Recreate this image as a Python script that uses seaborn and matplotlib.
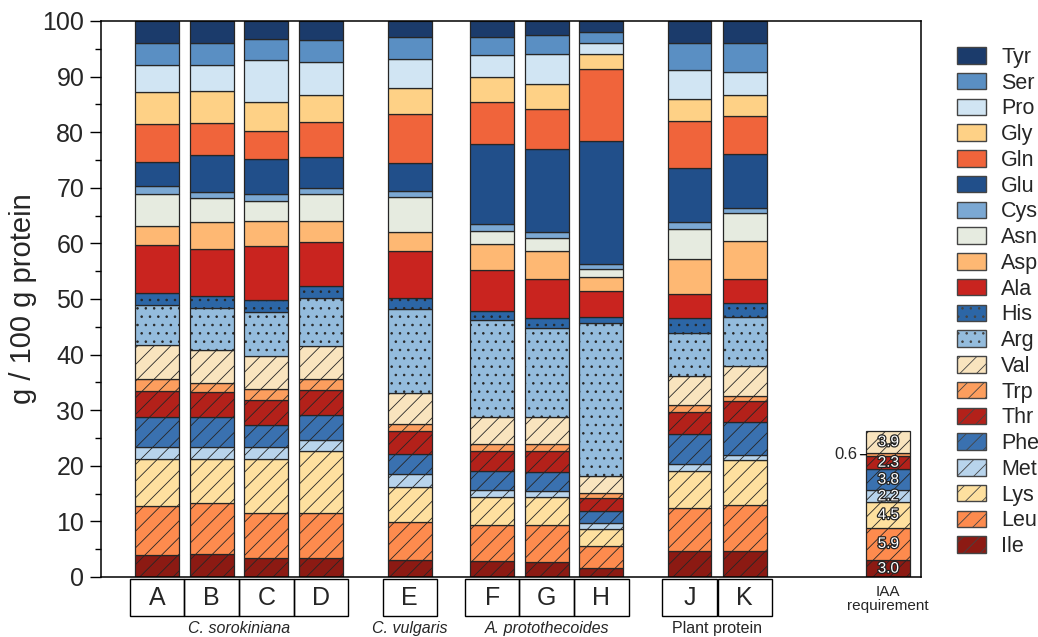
import numpy as np
import pandas as pd
import matplotlib
matplotlib.use("Agg")
import matplotlib.pyplot as plt
import matplotlib.patheffects as pe
from matplotlib.patches import Patch, Rectangle
from matplotlib.ticker import MultipleLocator
import seaborn as sns

# ---- samples -------------------------------------------------------------
samples = ["A", "B", "C", "D", "E", "F", "G", "H", "J", "K"]
sample_pos = [0, 1, 2, 3, 4.63, 6.14, 7.14, 8.14, 9.76, 10.77]
group_names = ["C. sorokiniana", "C. vulgaris", "A. protothecoides", "Plant protein"]
group_members = [["A", "B", "C", "D"], ["E"], ["F", "G", "H"], ["J", "K"]]
group_italic = [True, True, True, False]

# ---- amino acid composition, g / 100 g protein (A..K) --------------------
ile = [3.9, 4.1, 3.5, 3.5, 3.0, 2.8, 2.7, 1.7, 4.7, 4.7]
leu = [8.8, 9.2, 8.0, 8.1, 6.9, 6.6, 6.7, 3.9, 7.7, 8.3]
lys = [8.6, 8.0, 9.7, 11.0, 6.3, 5.0, 4.9, 3.1, 6.6, 8.0]
met = [2.1, 2.1, 2.1, 2.1, 2.3, 1.2, 1.2, 1.0, 1.4, 0.9]
phe = [5.3, 5.3, 4.1, 4.4, 3.6, 3.4, 3.4, 2.2, 5.4, 6.0]
thr = [4.8, 4.5, 4.5, 4.6, 4.2, 3.7, 3.7, 2.3, 3.9, 3.8]
trp = [2.1, 1.7, 1.9, 1.9, 1.3, 1.3, 1.3, 0.9, 1.3, 0.9]
val = [6.1, 6.0, 5.9, 6.0, 5.5, 4.8, 4.9, 3.1, 5.2, 5.3]
arg = [7.2, 7.4, 8.0, 8.5, 15.1, 17.5, 16.0, 27.5, 7.7, 8.8]
his = [2.2, 2.3, 2.2, 2.2, 2.0, 1.6, 1.8, 1.0, 2.7, 2.6]
ala = [8.7, 8.4, 9.7, 7.9, 8.5, 7.3, 7.0, 4.7, 4.3, 4.3]
asp = [3.4, 4.8, 4.4, 3.9, 3.4, 4.7, 5.0, 2.6, 6.3, 6.9]
asn = [5.7, 4.4, 3.7, 4.7, 6.2, 2.3, 2.4, 1.4, 5.4, 4.9]
cys = [1.4, 1.0, 1.2, 1.2, 1.2, 1.3, 1.0, 0.9, 1.2, 1.0]
glu = [4.4, 6.7, 6.2, 5.5, 5.0, 14.4, 15.0, 22.2, 9.8, 9.6]
gln = [6.8, 5.8, 5.2, 6.3, 8.8, 7.5, 7.2, 12.9, 8.5, 6.9]
gly = [5.7, 5.7, 5.2, 4.9, 4.6, 4.5, 4.4, 2.7, 3.9, 3.8]
pro = [4.9, 4.7, 7.5, 6.0, 5.2, 3.9, 5.5, 1.9, 5.1, 4.2]
ser = [3.9, 3.9, 3.8, 3.9, 4.0, 3.4, 3.4, 2.0, 5.0, 5.1]
tyr = [4.0, 4.0, 3.2, 3.4, 2.9, 2.8, 2.5, 2.0, 3.9, 4.0]

# ---- indispensable amino acid requirement --------------------------------
iaa_label = "IAA\nrequirement"
iaa_pos = 13.4
iaa_names = ["Ile", "Leu", "Lys", "Met", "Phe", "Thr", "Trp", "Val"]
iaa_values = [3.0, 5.9, 4.5, 2.2, 3.8, 2.3, 0.6, 3.9]

# stacking order (bottom -> top), colours and fills
layers = [
    ("Ile", ile, "#8c1a13", "//"),
    ("Leu", leu, "#fd8b4e", "//"),
    ("Lys", lys, "#fee09f", "//"),
    ("Met", met, "#b8d4ec", "//"),
    ("Phe", phe, "#3a71b0", "//"),
    ("Thr", thr, "#b3211a", "//"),
    ("Trp", trp, "#fc9e5e", "//"),
    ("Val", val, "#f9e4be", "//"),
    ("Arg", arg, "#94bcdd", ".."),
    ("His", his, "#2c66a6", ".."),
    ("Ala", ala, "#c9241f", None),
    ("Asp", asp, "#feb873", None),
    ("Asn", asn, "#e6ebe0", None),
    ("Cys", cys, "#7ba8d3", None),
    ("Glu", glu, "#214f8a", None),
    ("Gln", gln, "#f0643b", None),
    ("Gly", gly, "#fed186", None),
    ("Pro", pro, "#d1e5f3", None),
    ("Ser", ser, "#5a8fc3", None),
    ("Tyr", tyr, "#1b3b6b", None),
]

sns.set_style("ticks")
plt.rcParams["font.family"] = ["Liberation Sans", "DejaVu Sans"]
plt.rcParams["hatch.linewidth"] = 0.6
plt.rcParams["hatch.color"] = "#1a1a1a"

fig = plt.figure(figsize=(10.38, 6.37), dpi=100)
ax = fig.add_axes([101 / 1038, 1 - 577 / 637, (921 - 101) / 1038, (577 - 21) / 637])

edge = "#262626"
bar_w = 0.8

# stacked composition bars
bottom = np.zeros(len(samples))
for name, vals, col, hatch in layers:
    df = pd.DataFrame({"pos": sample_pos, "value": vals})
    sns.barplot(data=df, x="pos", y="value", native_scale=True, width=bar_w,
                color=col, saturation=1, errorbar=None, bottom=bottom,
                hatch=hatch, edgecolor=edge, linewidth=0.9, ax=ax)
    bottom = bottom + np.asarray(vals)

# requirement bar
colour_of = {n: c for n, _, c, _ in layers}
hatch_of = {n: h for n, _, _, h in layers}
iaa_bottom = 0.0
for name, v in zip(iaa_names, iaa_values):
    df = pd.DataFrame({"pos": [iaa_pos], "value": [v]})
    sns.barplot(data=df, x="pos", y="value", native_scale=True, width=bar_w,
                color=colour_of[name], saturation=1, errorbar=None,
                bottom=iaa_bottom, hatch=hatch_of[name], edgecolor=edge,
                linewidth=0.9, ax=ax)
    if v >= 1.0:
        ax.text(iaa_pos, iaa_bottom + v / 2, f"{v:.1f}", ha="center", va="center",
                fontsize=11, color="white",
                path_effects=[pe.withStroke(linewidth=1.8, foreground="#222222")])
    else:
        yv = iaa_bottom + v / 2
        ax.annotate(f"{v:.1f}", xy=(iaa_pos - bar_w / 2, yv),
                    xytext=(iaa_pos - bar_w / 2 - 0.17, yv),
                    ha="right", va="center", fontsize=12,
                    arrowprops=dict(arrowstyle="-", color="black", lw=0.9,
                                    shrinkA=0, shrinkB=0))
    iaa_bottom += v

# axes styling
ax.set_xlim(-1.03, 14.0)
ax.set_ylim(0, 100)
ax.set_xticks([])
ax.set_xlabel("")
ax.set_ylabel("g / 100 g protein", fontsize=21, labelpad=4)
ax.yaxis.set_major_locator(MultipleLocator(10))
ax.yaxis.set_minor_locator(MultipleLocator(5))
ax.tick_params(axis="y", which="major", direction="out", length=8, width=1,
               labelsize=18, pad=4, color="black")
ax.tick_params(axis="y", which="minor", direction="out", length=4, width=1,
               color="black")
for s in ax.spines.values():
    s.set_visible(True)
    s.set_color("black")
    s.set_linewidth(1.1)

# sample boxes beneath the axis
trans = ax.get_xaxis_transform()
cell_top, cell_bot = -0.004, -0.070
for s, p in zip(samples, sample_pos):
    ax.add_patch(Rectangle((p - 0.5, cell_bot), 1.0, cell_top - cell_bot,
                           transform=trans, clip_on=False, fill=False,
                           edgecolor="black", lw=1.0))
    ax.text(p, (cell_top + cell_bot) / 2, s, transform=trans, ha="center",
            va="center", fontsize=18)

pos_of = dict(zip(samples, sample_pos))
for gname, members, ital in zip(group_names, group_members, group_italic):
    xs = [pos_of[m] for m in members]
    ax.text(np.mean(xs), -0.092, gname, transform=trans, ha="center",
            va="center", fontsize=11.5, style="italic" if ital else "normal")

ax.text(iaa_pos, -0.04, iaa_label, transform=trans, ha="center", va="center",
        fontsize=11, linespacing=1.0)

# legend, top entry = top of the stack
handles = [Patch(facecolor=c, edgecolor="#444444", hatch=h, lw=1.0, label=n)
           for n, _, c, h in reversed(layers)]
fig.legend(handles=handles, loc="upper left",
           bbox_to_anchor=(957 / 1038, 1 - 47 / 637), frameon=False,
           fontsize=15.5, handlelength=1.35, handleheight=0.8,
           labelspacing=0.22, handletextpad=0.7, borderpad=0, borderaxespad=0)

fig.savefig("out.png", dpi=100)
